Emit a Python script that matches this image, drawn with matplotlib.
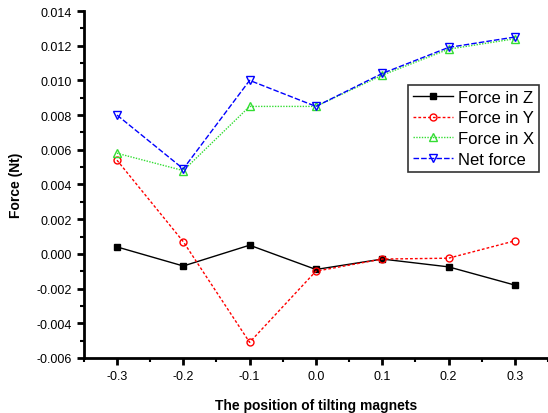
import numpy as np
from matplotlib import pyplot as plt
from matplotlib.ticker import MultipleLocator, FormatStrFormatter

plt.rcParams['font.family'] = ['Liberation Sans', 'DejaVu Sans']

posicion = [-0.3, -0.2, -0.1, 0.0, 0.1, 0.2, 0.3]
fuerza_z = [0.0004, -0.0007, 0.0005, -0.0009, -0.0003, -0.00075, -0.0018]
fuerza_y = [0.0054, 0.0007, -0.0051, -0.001, -0.0003, -0.00025, 0.00075]
fuerza_x = [0.0058, 0.0048, 0.0085, 0.0085, 0.0103, 0.0118, 0.0124]
fuerza_neta = [0.0080, 0.0049, 0.0100, 0.0085, 0.0104, 0.0119, 0.0125]

fig = plt.figure(figsize=(5.48, 4.14), dpi=100)
ax = fig.add_axes([0.153, 0.133, 0.847, 0.838])

ax.plot(posicion, fuerza_z, color='black', ls='-', lw=1, marker='s', ms=5,
        label='Force in Z')
ax.plot(posicion, fuerza_y, color='red', ls=(0, (2, 1.5)), lw=1, marker='o', ms=5,
        mfc='none', label='Force in Y')
ax.plot(posicion, fuerza_x, color='#33dd33', ls=(0, (1, 1)), lw=1, marker='^', ms=6,
        mfc='none', label='Force in X')
ax.plot(posicion, fuerza_neta, color='blue', ls=(0, (4, 1.5)), lw=1, marker='v', ms=6,
        mfc='none', label='Net force')

ax.set_xlim(-0.35, 0.35)
ax.set_ylim(-0.006, 0.014)
ax.xaxis.set_major_locator(MultipleLocator(0.1))
ax.xaxis.set_minor_locator(MultipleLocator(0.05))
ax.yaxis.set_major_locator(MultipleLocator(0.002))
ax.yaxis.set_minor_locator(MultipleLocator(0.001))
ax.xaxis.set_major_formatter(FormatStrFormatter('%.1f'))
ax.yaxis.set_major_formatter(FormatStrFormatter('%.3f'))

for s in ['top', 'right']:
    ax.spines[s].set_visible(False)
for s in ['left', 'bottom']:
    ax.spines[s].set_linewidth(2)
ax.tick_params(which='major', length=5, width=2, labelsize=9)
ax.tick_params(which='minor', length=3, width=1.5)

ax.set_xlabel('The position of tilting magnets', fontsize=10, fontweight='bold', labelpad=12)
ax.set_ylabel('Force (Nt)', fontsize=10, fontweight='bold', labelpad=10)

leg = ax.legend(loc='upper left', bbox_to_anchor=(0.698, 0.788), fontsize=12,
                frameon=True, fancybox=False, edgecolor='black', borderpad=0.3,
                labelspacing=0.35, handlelength=2.4, handletextpad=0.3,
                borderaxespad=0)
leg.get_frame().set_linewidth(1.2)

fig.savefig('out.png', dpi=100)
